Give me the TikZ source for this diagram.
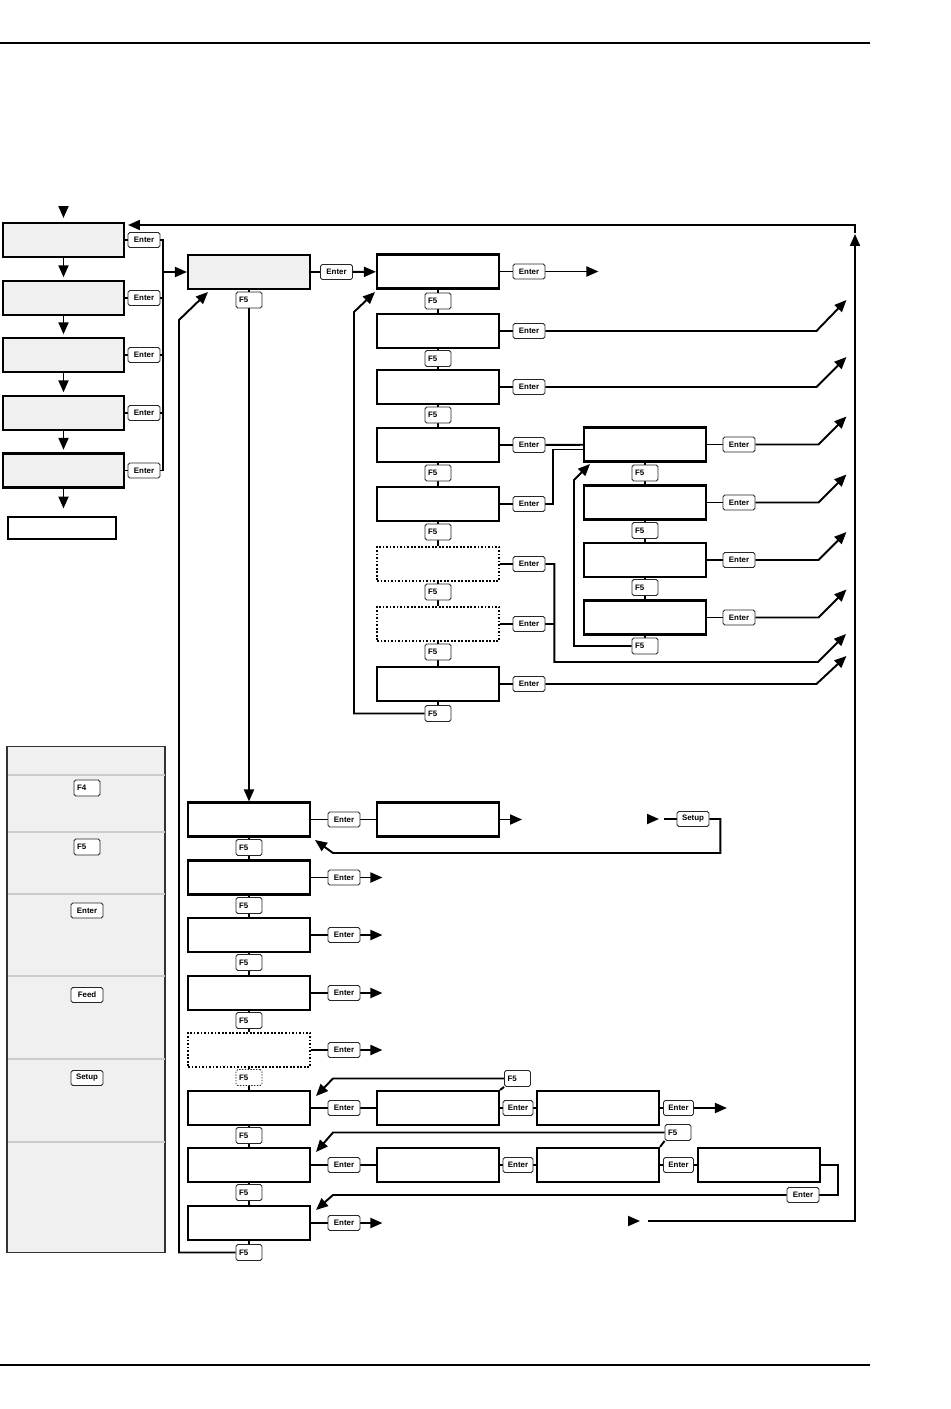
\documentclass[tikz,border=0pt]{standalone}
\usepackage{fontspec}
\setsansfont{Liberation Sans}
\usepackage{tikz}
\usetikzlibrary{arrows.meta, positioning, calc, backgrounds}

\begin{document}
\begin{tikzpicture}[x=0.02cm, y=-0.02cm,
  disp/.style={draw, line width=1.2pt, minimum width=2.44cm, minimum height=0.68cm, inner sep=0pt, fill=white},
  dispg/.style={disp, fill=black!6},
  dispopt/.style={disp, line width=1pt, dash pattern=on 1pt off 1pt},
  key/.style={draw=black!85, line width=0.5pt, rounded corners=1pt, fill=white, inner sep=0pt,
    minimum width=0.64cm, minimum height=0.3cm, font=\sffamily\bfseries\fontsize{4.5}{5}\selectfont},
  fkey/.style={key, minimum width=0.52cm, minimum height=0.32cm, text width=0.4cm, align=left},
  wire/.style={line width=1.1pt},
  arr/.style={wire, -{Triangle[length=0.24cm, width=0.2cm]}}
  ]
  \useasboundingbox (0,0) rectangle (950,1409);
  % page rules
  \draw[line width=0.8pt] (0,43) -- (870,43);
  \draw[line width=0.8pt] (0,1365) -- (870,1365);

  % left menu
  \foreach \i/\y in {1/240, 2/298, 3/355, 4/413, 5/470.5} {
    \node[dispg, minimum width=2.42cm] (L\i) at (63.5,\y) {};
    \node[key] (Lk\i) at (144,\y) {Enter};
  }
  \node[draw, line width=0.6pt, minimum width=2.16cm, minimum height=0.44cm] (Lx) at (62,528) {};
  \coordinate (in) at (63.5,218);
  \coordinate (bus) at (163,272);

  % main menu
  \node[dispg] (A) at (249,272) {};
  \node[key] (Ak) at (336.5,272) {Enter};
  \node[fkey] (Af) at (249,300) {F5};

  % first sub menu
  \foreach \i/\y in {1/271.5, 2/331, 3/387, 4/445, 5/504, 8/684}
    \node[disp] (B\i) at (438,\y) {};
  \node[dispopt] (B6) at (438,564) {};
  \node[dispopt] (B7) at (438,624) {};
  \foreach \i/\y/\f in {1/271.5/301, 2/331/358.5, 3/387/415, 4/445/473, 5/504/532, 6/564/592, 7/624/652, 8/684/713.5} {
    \node[key] (Be\i) at (529,\y) {Enter};
    \node[fkey] (Bf\i) at (438,\f) {F5};
  }

  % second sub menu
  \foreach \i/\y/\f in {1/444.5/473, 2/502.5/530.5, 3/560/587.5, 4/617.5/646} {
    \node[disp] (D\i) at (645,\y) {};
    \node[key] (De\i) at (739,\y) {Enter};
    \node[fkey] (Df\i) at (645,\f) {F5};
  }

  % lower menu
  \foreach \i/\y/\f in {1/819.5/847.5, 2/877.5/905.5, 3/935/962.5, 4/993/1020.5, 6/1108/1135.5, 7/1165/1192.5, 8/1223/1252.5} {
    \node[disp] (C\i) at (249,\y) {};
    \node[fkey] (Cf\i) at (249,\f) {F5};
  }
  \node[dispopt] (C5) at (249,1050) {};
  \node[fkey, dash pattern=on 0.8pt off 0.8pt] (Cf5) at (249,1077.5) {F5};
  \foreach \i/\y in {1/819.5, 2/877.5, 3/935, 4/993, 5/1050, 6/1108, 7/1165, 8/1223}
    \node[key] (Ce\i) at (344,\y) {Enter};

  \node[disp] (E1) at (438,819.5) {};
  \node[key] (Su) at (693,819) {Setup};
  \coordinate (su) at (659,819);

  \node[disp] (F1) at (438,1108) {};
  \node[key, minimum width=0.6cm] (Fe1) at (518,1108) {Enter};
  \node[disp] (F2) at (598,1108) {};
  \node[key, minimum width=0.6cm] (Fe2) at (678.5,1108) {Enter};
  \node[fkey] (Ff) at (517.5,1078.5) {F5};

  \node[disp] (G1) at (438,1165) {};
  \node[key, minimum width=0.6cm] (Ge1) at (518,1165) {Enter};
  \node[disp] (G2) at (598,1165) {};
  \node[key, minimum width=0.6cm] (Ge2) at (678.5,1165) {Enter};
  \node[disp] (G3) at (759,1165) {};
  \node[fkey] (Gf) at (678,1132.5) {F5};
  \node[key] (Ge3) at (803,1195) {Enter};
  \coordinate (rt) at (640,1221);

  % legend
  \node[draw=black!80, fill=black!6, line width=0.6pt, minimum width=3.16cm, minimum height=10.14cm, inner sep=0pt] (leg) at (86,999.5) {};
  \foreach \y in {775, 832, 894, 976, 1059, 1142}
    \draw[black!20, line width=0.6pt] (7.5,\y) -- (164.5,\y);
  \node[fkey] (kF4) at (87,788) {F4};
  \node[fkey] (kF5) at (87,847) {F5};
  \node[key] (kEnter) at (87,910.5) {Enter};
  \node[key] (kFeed) at (87,995) {Feed};
  \node[key] (kSetup) at (87,1078) {Setup};

  \begin{scope}[on background layer]
    % left menu
    \draw[arr] (in) ++(0,-12) -- (in);
    \draw[arr, shorten >=1.5pt] (L1) -- (L2);
    \draw[arr, shorten >=1.5pt] (L2) -- (L3);
    \draw[arr, shorten >=1.5pt] (L3) -- (L4);
    \draw[arr, shorten >=1.5pt] (L4) -- (L5);
    \draw[arr] (L5.south) -- ++(0,20);
    \foreach \i in {1,...,5}
      \draw[wire] (L\i) -- (Lk\i);
    \draw[wire] (Lk1.east) -| (bus |- Lk5) -- (Lk5.east);
    \foreach \i in {2,3,4}
      \draw[wire] (Lk\i.east) -- (Lk\i.east -| bus);
    \draw[arr] (bus) -- (A);

    % main menu
    \draw[wire] (A) -- (Ak);
    \draw[arr] (Ak) -- (B1);
    \draw[wire] (A) -- (Af);
    \draw[arr] (Af) -- (C1);
    \draw[arr] (Cf8.west) -| (179,320) -- (208,292);

    % first sub menu
    \draw[wire] (B1) -- (Bf1) -- (B2) -- (Bf2) -- (B3) -- (Bf3) -- (B4) -- (Bf4) -- (B5)
      -- (Bf5) -- (B6) -- (Bf6) -- (B7) -- (Bf7) -- (B8) -- (Bf8);
    \foreach \i in {1,...,8}
      \draw[wire] (B\i) -- (Be\i);
    \draw[arr] (Be1.east) -- ++(53,0);
    \draw[arr] (Be2.east) -- ++(271,0) -- ++(30,-31);
    \draw[arr] (Be3.east) -- ++(271,0) -- ++(30,-30);
    \draw[wire] (Be4) -- (D1);
    \draw[wire] (Be5.east) -- ++(8,0) |- ($(D1.west)+(0,5)$);
    \draw[arr] (Be6.east) -- ++(9,0) |- (818,662) -- ++(28,-28);
    \draw[wire] (Be7.east) -- ++(9,0);
    \draw[arr] (Be8.east) -- ++(271,0) -- ++(30,-28);
    \draw[arr] (Bf8.west) -| (354,312) -- (375,292);

    % second sub menu
    \draw[wire] (D1) -- (Df1) -- (D2) -- (Df2) -- (D3) -- (Df3) -- (D4) -- (Df4);
    \foreach \i in {1,...,4} {
      \draw[wire] (D\i) -- (De\i);
      \draw[arr] (De\i.east) -- ++(63,0) -- ++(28,-28);
    }
    \draw[arr] (Df4.west) -| (574,480) -- (590,464);

    % lower menu
    \draw[wire] (C1) -- (Cf1) -- (C2) -- (Cf2) -- (C3) -- (Cf3) -- (C4) -- (Cf4) -- (C5)
      -- (Cf5) -- (C6) -- (Cf6) -- (C7) -- (Cf7) -- (C8) -- (Cf8);
    \foreach \i in {1,...,8}
      \draw[wire] (C\i) -- (Ce\i);
    \foreach \i in {2,3,4,5,8}
      \draw[arr] (Ce\i.east) -- ++(22,0);
    \draw[wire] (Ce1) -- (E1);
    \draw[arr] (E1.east) -- ++(22,0);
    \draw[arr] (su) ++(-12,0) -- (su);
    \draw[wire] (Su.west) -- ++(-13,0);
    \draw[arr] (Su.east) -- ++(11,0) |- (333,853) -- (315,840);
    \draw[wire] (Ce6) -- (F1) -- (Fe1) -- (F2) -- (Fe2);
    \draw[arr] (Fe2.east) -- ++(33,0);
    \draw[wire] (F1.north east) -- (Ff.south west);
    \draw[arr] (Ff.west) -- (333,1078.5) -- (316,1096);
    \draw[wire] (Ce7) -- (G1) -- (Ge1) -- (G2) -- (Ge2) -- (G3);
    \draw[wire] (G2.north east) -- (Gf.south west);
    \draw[arr] (Gf.west) -- (333,1132.5) -- (316,1152);
    \draw[wire] (G3.east) -- ++(17,0) |- (Ge3.east);
    \draw[arr] (Ge3.west) -- (333,1195) -- (316,1210);

    % back to the top
    \draw[arr] (rt) ++(-12,0) -- (rt);
    \draw[arr] (648,1221) -- (855,1221) -- (855,234);
    \draw[arr] (855,233) -- (855,225) -- (128,225);
  \end{scope}
\end{tikzpicture}
\end{document}
